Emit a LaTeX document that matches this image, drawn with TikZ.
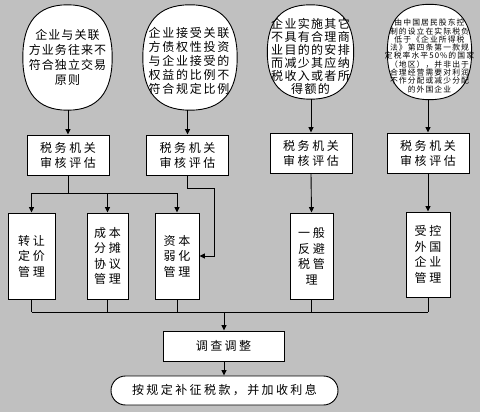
\documentclass[tikz,border=0pt]{standalone}
\usepackage{fontspec}
\newfontfamily\cjk{Noto Sans CJK SC}
\usetikzlibrary{arrows.meta,calc,backgrounds}
\definecolor{bgc}{HTML}{C0C0C0}
\newcommand\cjkfont[3]{\cjk\addfontfeature{LetterSpace=#1}\fontsize{#2}{#3}\selectfont}
\tikzset{
  line/.style={draw=black,line width=0.9pt},
  arr/.style={line,-{Triangle[length=5.5pt,width=5pt]}},
  shapeholder/.style={inner sep=0pt},
  btext/.style={inner sep=0pt,align=center},
  evalbox/.style={line,fill=white,inner sep=0pt,align=center,minimum width=82pt,minimum height=40pt,font=\cjkfont{22}{12}{15}},
  mgmt/.style={line,fill=white,inner sep=0pt,align=center,minimum height=86pt,font=\cjkfont{22}{12}{15.5}},
  endbox/.style={line,fill=white,inner sep=0pt,align=center,font=\cjkfont{20}{12}{15}},
}
\newcommand\bubblepath[1]{%
  \filldraw[line,fill=white]
   (#1.north) .. controls ($(#1.north)!0.68!(#1.north east)$) and ($(#1.east)!0.66!(#1.north east)$) .. (#1.east)
   .. controls ($(#1.east)!0.66!(#1.south east)$) and ($(#1.south)!0.68!(#1.south east)$) .. (#1.south)
   .. controls ($(#1.south)!0.68!(#1.south west)$) and ($(#1.west)!0.66!(#1.south west)$) .. (#1.west)
   .. controls ($(#1.west)!0.66!(#1.north west)$) and ($(#1.north)!0.68!(#1.north west)$) .. (#1.north) -- cycle;}
\begin{document}
\begin{tikzpicture}[x=1pt,y=-1pt]
\begin{scope}[on background layer]
\fill[bgc] (0,0) rectangle (480,412);
\end{scope}
\useasboundingbox (0,0) rectangle (480,412);

% top bubbles (outline holders)
\node[shapeholder,minimum width=89pt,minimum height=105pt] (b1) at (67.5,57.5) {};
\node[shapeholder,minimum width=94pt,minimum height=105pt] (b2) at (190,57.5) {};
\node[shapeholder,minimum width=86pt,minimum height=94pt] (b3) at (310.5,52) {};
\node[shapeholder,minimum width=84pt,minimum height=95pt] (b4) at (429.5,52) {};
\begin{scope}[on background layer]
\bubblepath{b1}
\bubblepath{b2}
\bubblepath{b3}
\bubblepath{b4}
\end{scope}
% bubble texts
\node[btext,font=\cjkfont{9}{12}{15}] (b1t) at (67.5,57.5) {企业与关联\\方业务往来不\\符合独立交易\\原则};
\node[btext,font=\cjkfont{15}{12}{14}] (b2t) at (189,61) {企业接受关联\\方债权性投资\\与企业接受的\\权益的比例不\\符合规定比例};
\node[btext,font=\cjkfont{11}{12}{13}] (b3t) at (310.5,56.5) {企业实施其它\\不具有合理商\\业目的的安排\\而减少其应纳\\税收入或者所\\得额的};
\node[btext,font=\cjkfont{14}{7.8}{8.3}] (b4t) at (429.5,56) {由中国居民股东控\\制的设立在实际税负\\低于《企业所得税\\法》第四条第一款规\\定税率水平50\%的国家\\（地区），并非出于\\合理经营需要对利润\\不作分配或减少分配\\的外国企业};

% evaluation boxes
\node[evalbox] (e1) at (68,155) {税务机关\\审核评估};
\node[evalbox] (e2) at (187.5,155) {税务机关\\审核评估};
\node[evalbox] (e3) at (311,153) {税务机关\\审核评估};
\node[evalbox] (e4) at (428,153) {税务机关\\审核评估};

% management boxes
\node[mgmt,minimum width=47pt] (m1) at (31.5,256) {转让\\定价\\管理};
\node[mgmt,minimum width=41pt] (m2) at (107.5,256) {成本\\分摊\\协议\\管理};
\node[mgmt,minimum width=44pt] (m3) at (177,256) {资本\\弱化\\管理};
\node[mgmt,minimum width=43pt] (m4) at (311.5,256) {一般\\反避\\税管\\理};
\node[mgmt,minimum width=44pt,minimum height=85pt] (m5) at (428,254.5) {受控\\外国\\企业\\管理};

% bottom
\node[endbox,minimum width=121pt,minimum height=30pt] (s) at (223.5,346) {调查调整};
\node[endbox,minimum width=227pt,minimum height=29pt,rounded corners=14.5pt] (f) at (224.5,390.5) {按规定补征税款，并加收利息};

% connectors top
\draw[arr] (e1.north |- b1.south) -- (e1.north);
\draw[arr] (e2.north |- b2.south) -- (e2.north);
\draw[arr] (e3.north |- b3.south) -- (e3.north);
\draw[arr] (e4.north |- b4.south) -- (e4.north);

% fan-out from e1
\coordinate (j1) at (68,193);
\draw[line] (e1.south) -- (j1);
\draw[line] (j1 -| m1.north) -- (j1 -| m3.north);
\draw[arr] (j1 -| m1.north) -- (m1.north);
\draw[arr] (j1 -| m2.north) -- (m2.north);
\draw[arr] (j1 -| m3.north) -- (m3.north);

% e2 to m3 side
\coordinate (k) at (214,188);
\draw[arr] (e2.south) |- (k) |- (m3.east);

\draw[arr] (e3.south) -- (m4.north);
\draw[arr] (e4.south) -- (m5.north);

% merge
\coordinate (j2) at (224,312);
\draw[line] (m1.south) -- (m1.south |- j2);
\draw[line] (m2.south) -- (m2.south |- j2);
\draw[line] (m3.south) -- (m3.south |- j2);
\draw[line] (m4.south) -- (m4.south |- j2);
\draw[line] (m5.south) -- (m5.south |- j2);
\draw[line] (m1.south |- j2) -- (m5.south |- j2);
\draw[arr] (j2) -- (s.north -| j2);
\draw[arr] (s.south -| j2) -- (f.north -| j2);
\end{tikzpicture}
\end{document}
